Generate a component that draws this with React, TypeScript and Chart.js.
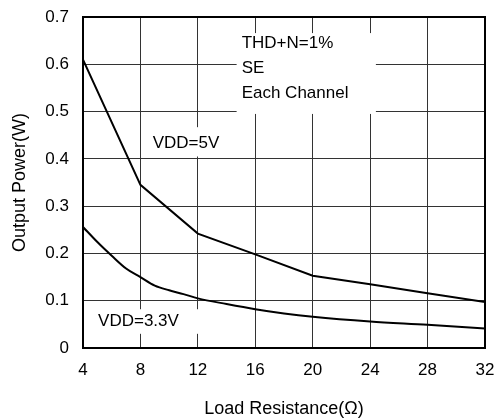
import React, { useEffect, useRef } from "react";
import { Chart, registerables } from "chart.js";

Chart.register(...registerables);

// Load resistance (Ω) and output power (W) per supply voltage
const resistance5V = [4, 8, 12, 16, 20, 24, 28, 32];
const power5V = [0.61, 0.345, 0.242, 0.198, 0.153, 0.135, 0.116, 0.097];

const resistance33V = [4, 5, 6, 7, 8, 9, 10, 11, 12, 14, 16, 18, 20, 24, 28, 32];
const power33V = [0.256, 0.224, 0.195, 0.168, 0.15, 0.132, 0.122, 0.114, 0.105, 0.093, 0.082, 0.073, 0.066, 0.056, 0.049, 0.041];

const xTicks = [4, 8, 12, 16, 20, 24, 28, 32];
const yTicks = [0, 0.1, 0.2, 0.3, 0.4, 0.5, 0.6, 0.7];

const FONT = "'Liberation Sans', Arial, sans-serif";

// Text notes placed in data space; each gets a white backing box that hides the grid
type Note = { lines: string[]; x: number; y: number; box: [number, number, number, number] };
const notes: Note[] = [
  { lines: ["THD+N=1%", "SE", "Each Channel"], x: 15.05, y: 0.645, box: [14.7, 0.666, 24.4, 0.495] },
  { lines: ["VDD=5V"], x: 8.85, y: 0.433, box: [8.3, 0.467, 14.5, 0.405] },
  { lines: ["VDD=3.3V"], x: 5.05, y: 0.057, box: [4.5, 0.082, 12.7, 0.03] },
];

const notesPlugin = {
  id: "notes",
  beforeDatasetsDraw(chart: any) {
    const { ctx, scales } = chart;
    const xs = scales.x;
    const ys = scales.y;
    ctx.save();
    ctx.fillStyle = "#ffffff";
    for (const n of notes) {
      const [x0, y0, x1, y1] = n.box;
      const px0 = xs.getPixelForValue(x0);
      const py0 = ys.getPixelForValue(y0);
      const px1 = xs.getPixelForValue(x1);
      const py1 = ys.getPixelForValue(y1);
      ctx.fillRect(px0, py0, px1 - px0, py1 - py0);
    }
    ctx.restore();
  },
  afterDatasetsDraw(chart: any) {
    const { ctx, scales } = chart;
    const xs = scales.x;
    const ys = scales.y;
    ctx.save();
    ctx.fillStyle = "#000000";
    ctx.font = `17px ${FONT}`;
    ctx.textAlign = "left";
    ctx.textBaseline = "middle";
    for (const n of notes) {
      const px = xs.getPixelForValue(n.x);
      const py = ys.getPixelForValue(n.y);
      n.lines.forEach((line, i) => ctx.fillText(line, px, py + i * 25));
    }
    // plot frame
    const a = chart.chartArea;
    ctx.strokeStyle = "#000000";
    ctx.lineWidth = 2;
    ctx.strokeRect(a.left, a.top, a.right - a.left, a.bottom - a.top);
    ctx.restore();
  },
};

export default function App() {
  const canvasRef = useRef<HTMLCanvasElement | null>(null);

  useEffect(() => {
    document.body.style.margin = "0";
    const canvas = canvasRef.current;
    if (!canvas) return;
    const chart = new Chart(canvas, {
      type: "line",
      data: {
        datasets: [
          {
            label: "VDD=5V",
            data: resistance5V.map((r, i) => ({ x: r, y: power5V[i] })),
            borderColor: "#000000",
            borderWidth: 2,
            pointRadius: 0,
            tension: 0,
          },
          {
            label: "VDD=3.3V",
            data: resistance33V.map((r, i) => ({ x: r, y: power33V[i] })),
            borderColor: "#000000",
            borderWidth: 2,
            pointRadius: 0,
            cubicInterpolationMode: "monotone",
          },
        ],
      },
      options: {
        animation: false,
        responsive: false,
        maintainAspectRatio: false,
        layout: { autoPadding: false, padding: { left: 0, top: 17, right: 15, bottom: 0 } },
        plugins: { legend: { display: false }, tooltip: { enabled: false } },
        scales: {
          x: {
            type: "linear",
            min: 4,
            max: 32,
            afterBuildTicks: (s: any) => {
              s.ticks = xTicks.map((v) => ({ value: v }));
            },
            afterFit: (s: any) => {
              s.height = 72;
              s.paddingLeft = 0;
              s.paddingRight = 0;
            },
            grid: { color: "#333333", lineWidth: 1, drawTicks: false },
            border: { display: false },
            ticks: { color: "#000", padding: 12, font: { family: FONT, size: 17 } },
            title: {
              display: true,
              text: "Load Resistance(Ω)",
              color: "#000",
              font: { family: FONT, size: 18 },
              padding: { top: 10, bottom: 0 },
            },
          },
          y: {
            type: "linear",
            min: 0,
            max: 0.7,
            afterBuildTicks: (s: any) => {
              s.ticks = yTicks.map((v) => ({ value: v }));
            },
            afterFit: (s: any) => {
              s.width = 83;
              s.paddingTop = 0;
              s.paddingBottom = 0;
            },
            grid: { color: "#333333", lineWidth: 1, drawTicks: false },
            border: { display: false },
            ticks: {
              color: "#000",
              padding: 14,
              font: { family: FONT, size: 17 },
              callback: (v: any) => (v === 0 ? "0" : Number(v).toFixed(1)),
            },
            title: {
              display: true,
              text: "Output Power(W)",
              color: "#000",
              font: { family: FONT, size: 18 },
              padding: { top: 9, bottom: 4 },
            },
          },
        },
      },
      plugins: [notesPlugin],
    } as any);
    return () => chart.destroy();
  }, []);

  return (
    <div style={{ position: "fixed", left: 0, top: 0, width: 500, height: 420, background: "#fff" }}>
      <canvas ref={canvasRef} width={500} height={420} />
    </div>
  );
}
